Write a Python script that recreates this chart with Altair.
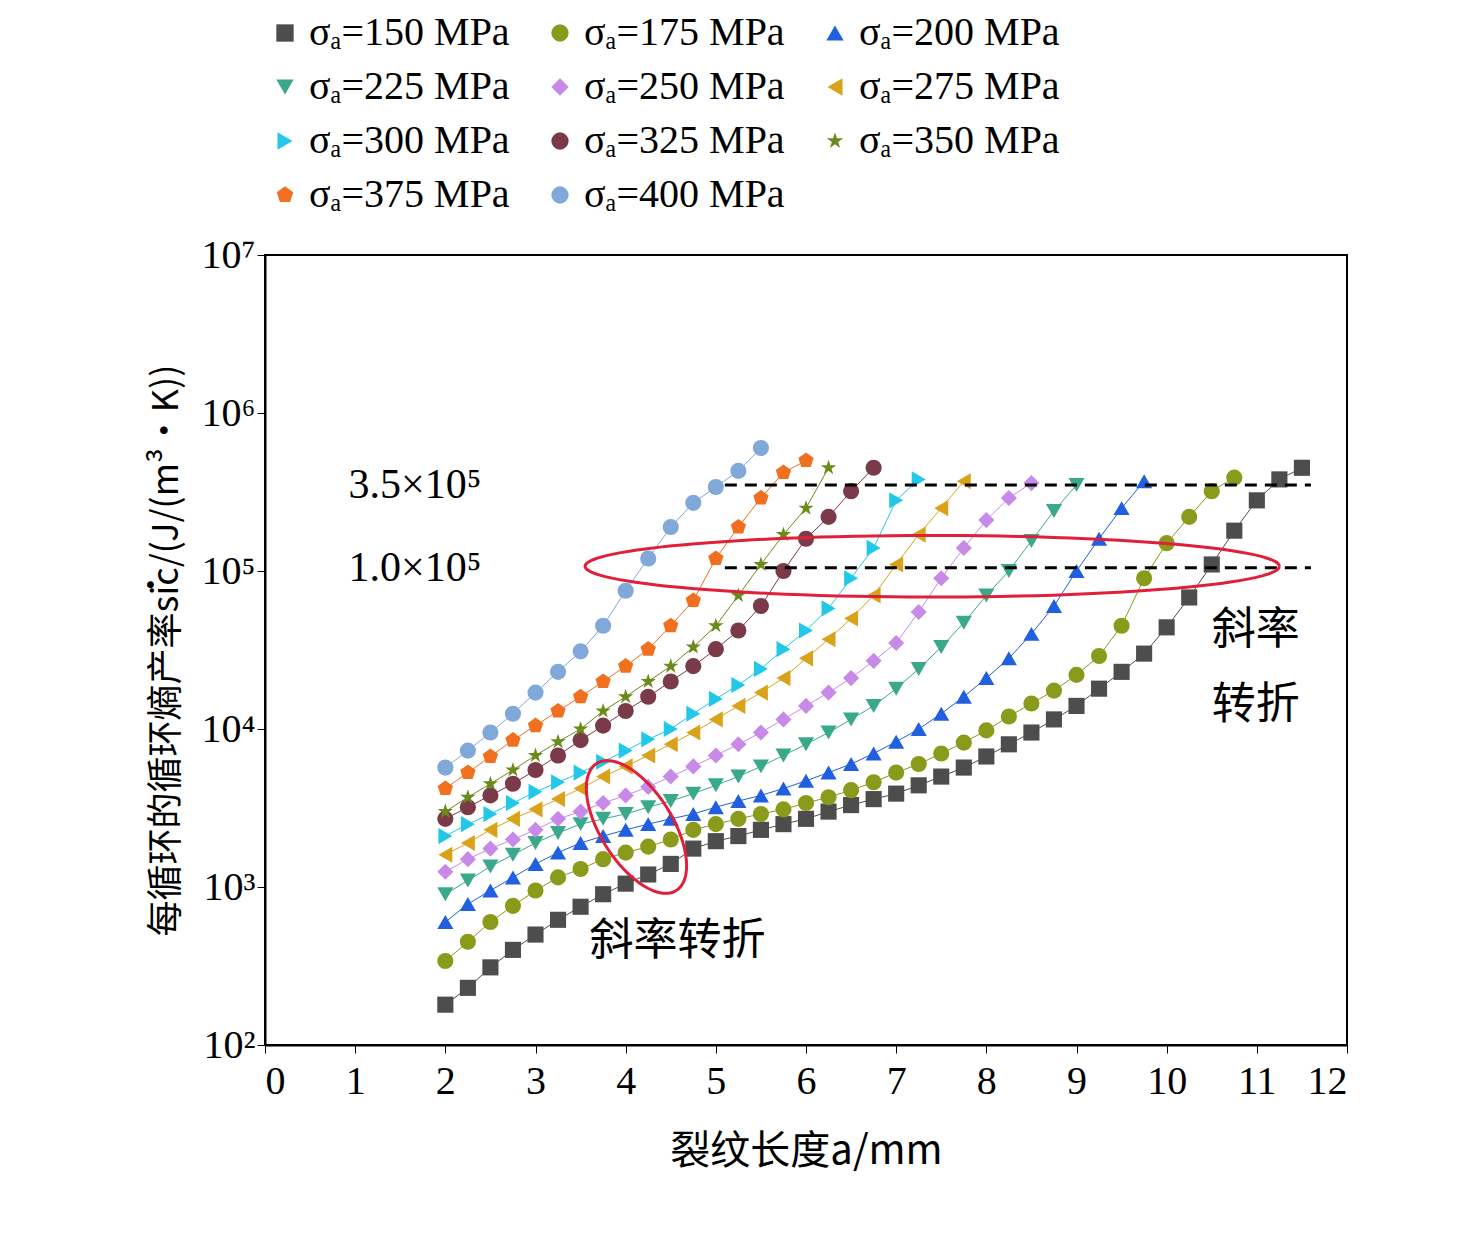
import numpy as np
import pandas as pd
import altair as alt

series = ["150", "175", "200", "225", "250", "275", "300", "325", "350", "375", "400"]
step = 0.25
values = {
    "150": [180, 230, 310, 400, 500, 620, 750, 900, 1050, 1200, 1400, 1750, 1950, 2100, 2300, 2500, 2700, 3000, 3300, 3600, 3900, 4400, 5000, 5700, 6700, 8000, 9500, 11500, 14000, 18000, 23000, 30000, 44000, 68000, 110000, 180000, 280000, 380000, 450000],
    "175": [340, 450, 600, 760, 950, 1150, 1300, 1500, 1650, 1800, 2000, 2300, 2500, 2700, 2900, 3100, 3400, 3700, 4100, 4600, 5300, 6000, 7000, 8200, 9800, 12000, 14500, 17500, 22000, 29000, 45000, 90000, 150000, 220000, 320000, 390000],
    "200": [600, 780, 950, 1150, 1400, 1650, 1900, 2100, 2300, 2500, 2700, 2900, 3200, 3500, 3800, 4200, 4700, 5300, 6000, 7000, 8300, 10000, 12500, 16000, 21000, 28000, 40000, 60000, 100000, 160000, 250000, 370000],
    "225": [900, 1100, 1350, 1600, 1900, 2200, 2500, 2700, 2900, 3200, 3500, 3900, 4400, 5000, 5800, 6800, 8000, 9500, 11500, 14000, 18000, 24000, 33000, 47000, 70000, 100000, 155000, 240000, 350000],
    "250": [1250, 1500, 1750, 2000, 2300, 2700, 3000, 3400, 3800, 4300, 5000, 5800, 6800, 8000, 9500, 11500, 14000, 17000, 21000, 27000, 35000, 55000, 90000, 140000, 210000, 290000, 360000],
    "275": [1600, 1900, 2300, 2700, 3100, 3600, 4200, 5000, 5800, 6800, 8000, 9500, 11500, 14000, 17000, 21000, 28000, 37000, 50000, 70000, 110000, 170000, 250000, 370000],
    "300": [2100, 2500, 2900, 3400, 4000, 4600, 5300, 6200, 7300, 8600, 10000, 12500, 15500, 19000, 24000, 32000, 42000, 58000, 90000, 140000, 280000, 380000],
    "325": [2700, 3200, 3800, 4500, 5500, 6800, 8500, 10500, 13000, 16000, 20000, 25000, 32000, 42000, 60000, 100000, 160000, 220000, 320000, 450000],
    "350": [3000, 3700, 4500, 5500, 6800, 8300, 10000, 13000, 16000, 20000, 25000, 33000, 45000, 70000, 110000, 170000, 250000, 450000],
    "375": [4200, 5300, 6700, 8500, 10500, 13000, 16000, 20000, 25000, 32000, 45000, 65000, 120000, 190000, 290000, 420000, 500000],
    "400": [5700, 7300, 9500, 12500, 17000, 23000, 31000, 45000, 75000, 120000, 190000, 270000, 340000, 430000, 600000],
}
colors = ["#4d4d4d", "#8a9a1a", "#1f5fe0", "#3aa88a", "#c88ae8", "#d9a21a",
          "#22c8e8", "#7a3a4a", "#6a8a1a", "#f07020", "#80a8d8"]
star = "M0,-1L0.22,-0.31L0.95,-0.31L0.36,0.12L0.59,0.81L0,0.38L-0.59,0.81L-0.36,0.12L-0.95,-0.31L-0.22,-0.31Z"
pent = "M0,-1L0.95,-0.31L0.59,0.81L-0.59,0.81L-0.95,-0.31Z"
shapes = ["square", "circle", "triangle-up", "triangle-down", "diamond", "triangle-left",
          "triangle-right", "circle", star, pent, "circle"]

labels = [f"σₐ={s} MPa" for s in series]
rows = []
for s, lab in zip(series, labels):
    for i, v in enumerate(values[s]):
        rows.append({"series": lab, "x": 2 + step * i, "y": v})
df = pd.DataFrame(rows)

FONT = "Liberation Serif"
CJK = "Noto Sans CJK SC"
xs = alt.Scale(domain=[0, 12], nice=False)
ys = alt.Scale(type="log", domain=[100, 1e7], nice=False)
cs = alt.Scale(domain=labels, range=colors)
ss = alt.Scale(domain=labels, range=shapes)
leg = alt.Legend(orient="top", columns=3, labelFontSize=40, labelFont=FONT, title=None,
                 symbolSize=300, columnPadding=30, rowPadding=14, labelLimit=400,
                 offset=40, symbolStrokeWidth=0, labelColor="black")

base = alt.Chart(df).encode(
    x=alt.X("x:Q", scale=xs, title="裂纹长度a/mm",
            axis=alt.Axis(values=list(range(13)), format="d", grid=False, labelFontSize=40, titleFontSize=40,
                          labelFont=FONT, titleFont=CJK, titleFontWeight="normal", titlePadding=30,
                          labelPadding=8, domainColor="black", tickColor="black", labelColor="black",
                          titleColor="black")),
    y=alt.Y("y:Q", scale=ys, title="每循环的循环熵产率ṡic/(J/(m³·K))",
            axis=alt.Axis(values=[100, 1e3, 1e4, 1e5, 1e6, 1e7], grid=False, labelFontSize=40,
                          titleFontSize=36, labelFont=FONT, titleFont=CJK, titleFontWeight="normal",
                          titlePadding=16, titleColor="black",
                          labelExpr="'10' + ['²','³','⁴','⁵','⁶','⁷'][round(log(datum.value)/LN10)-2]",
                          domainColor="black", tickColor="black", labelColor="black")),
)
lines = base.mark_line(strokeWidth=1).encode(color=alt.Color("series:N", scale=cs, legend=leg),
                                               detail="series:N")
points = base.mark_point(filled=True, size=260, opacity=1).encode(
    color=alt.Color("series:N", scale=cs, legend=leg),
    shape=alt.Shape("series:N", scale=ss, legend=leg),
)

dash_df = pd.DataFrame({"x": [5.1, 5.1], "x2": [11.6, 11.6], "y": [3.5e5, 1.05e5]})
dashes = alt.Chart(dash_df).mark_rule(strokeDash=[12, 8], strokeWidth=3, color="black").encode(
    x=alt.X("x:Q", scale=xs), x2="x2:Q", y=alt.Y("y:Q", scale=ys))

txt_df = pd.DataFrame({"x": [2.4, 2.4], "y": [3.5e5, 1.05e5], "t": ["3.5×10⁵", "1.0×10⁵"]})
txt = alt.Chart(txt_df).mark_text(align="right", fontSize=42, font=FONT, color="black").encode(
    x=alt.X("x:Q", scale=xs), y=alt.Y("y:Q", scale=ys), text="t:N")

cjk_df = pd.DataFrame({"x": [10.5, 10.5, 3.6], "y": [4.2e4, 1.4e4, 450], "t": ["斜率", "转折", "斜率转折"]})
cjk = alt.Chart(cjk_df).mark_text(align="left", fontSize=44, font=CJK, color="black").encode(
    x=alt.X("x:Q", scale=xs), y=alt.Y("y:Q", scale=ys), text="t:N")

# red ellipses (annotation outlines), computed in pixel space then mapped back
t = np.linspace(0, 2 * np.pi, 120)
PX, PY = 1082 / 12, 790 / 5
e1 = pd.DataFrame({"x": 7.4 + 3.85 * np.cos(t), "y": 10 ** (5.03 + 0.195 * np.sin(t)), "o": np.arange(120), "g": "a"})
th = np.deg2rad(58)
a, b = 75, 36
dx = a * np.cos(t) * np.cos(th) - b * np.sin(t) * np.sin(th)
dy = a * np.cos(t) * np.sin(th) + b * np.sin(t) * np.cos(th)
e2 = pd.DataFrame({"x": 4.12 + dx / PX, "y": 10 ** (3.38 - dy / PY), "o": np.arange(120), "g": "b"})
ell = alt.Chart(pd.concat([e1, e2])).mark_line(color="#e0203a", strokeWidth=3).encode(
    x=alt.X("x:Q", scale=xs), y=alt.Y("y:Q", scale=ys), order="o:Q", detail="g:N")

chart = alt.layer(lines, points, dashes, txt, cjk, ell).properties(
    width=1082, height=790, padding={"left": 140, "top": 5, "right": 20, "bottom": 5}
).configure_view(stroke="black", strokeWidth=2).configure_axis(domainWidth=2, tickSize=8)

chart.save("out.html", embed_options={"renderer": "svg", "actions": False})
